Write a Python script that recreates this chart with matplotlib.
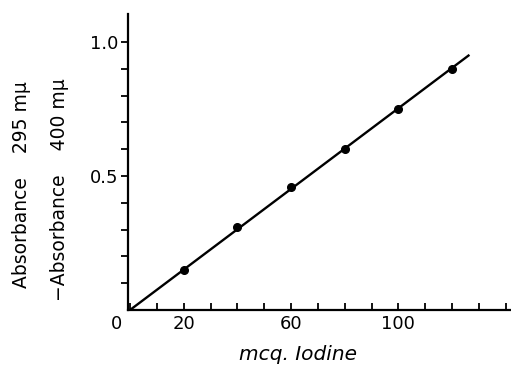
import numpy as np
import matplotlib
matplotlib.use("Agg")
import matplotlib.pyplot as plt
import matplotlib.transforms as mtransforms

# === Datos ===
iodine_mcg = [20, 40, 60, 80, 100, 120]
absorbance = [0.15, 0.31, 0.46, 0.60, 0.75, 0.90]
fit_x = [0, 126.5]
fit_y = [0, 0.952]

x_major = [0, 20, 60, 100]
x_minor = list(range(10, 141, 10))
y_major = [0.5, 1.0]
y_minor = [0.1, 0.2, 0.3, 0.4, 0.6, 0.7, 0.8, 0.9]

fig = plt.figure(figsize=(5.11, 3.65), dpi=100)
ax = fig.add_axes([0.2505, 0.151, 0.7495, 0.811])

ax.plot(fit_x, fit_y, color="black", lw=1.7, solid_capstyle="butt")
ax.plot(iodine_mcg, absorbance, "o", color="black", ms=5.5)

ax.set_xlim(-0.8, 142)
ax.set_ylim(0, 1.105)

for s in ("top", "right"):
    ax.spines[s].set_visible(False)
for s in ("left", "bottom"):
    ax.spines[s].set_linewidth(1.6)

ax.set_xticks(x_major)
ax.set_xticklabels(["0", "20", "60", "100"], fontsize=13)
ax.set_xticks(x_minor, minor=True)
ax.tick_params(axis="x", which="both", direction="in", length=5, width=1.3, pad=4)
lbl0 = ax.get_xticklabels()[0]
lbl0.set_horizontalalignment("right")
lbl0.set_transform(lbl0.get_transform() +
                   mtransforms.ScaledTranslation(-6 / 72, 0, fig.dpi_scale_trans))

ax.set_yticks(y_major)
ax.set_yticklabels(["0.5", "1.0"], fontsize=13)
ax.set_yticks(y_minor, minor=True)
ax.tick_params(axis="y", which="both", direction="out", length=5, width=1.3, pad=2)

ax.set_xlabel("mcq. Iodine", fontsize=14.5, style="italic")
ax.xaxis.label.set_verticalalignment("center")
ax.xaxis.set_label_coords(0.444, -0.152)

fig.text(0.043, 0.493, "Absorbance    295 m\u03bc", rotation=90,
         ha="center", va="center", fontsize=13.5)
fig.text(0.116, 0.48, "\u2212Absorbance    400 m\u03bc", rotation=90,
         ha="center", va="center", fontsize=13.5)

fig.savefig("out.png", dpi=100)
